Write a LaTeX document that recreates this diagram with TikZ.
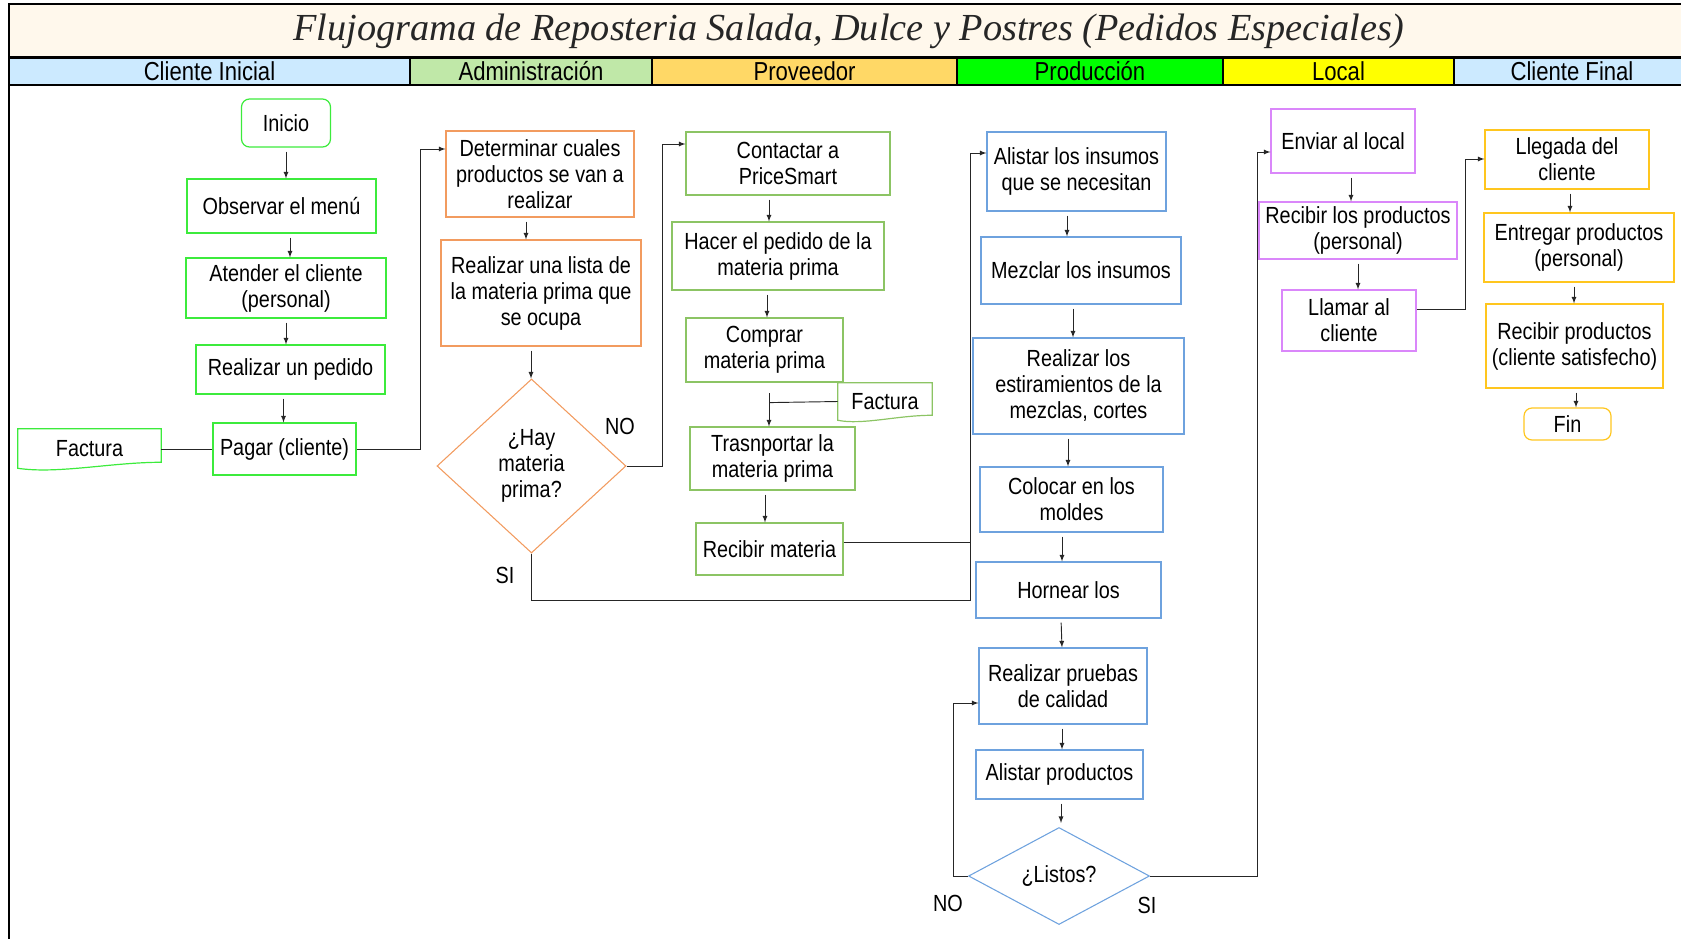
\documentclass[tikz,border=0pt]{standalone}
\usepackage{fontspec}
\setmainfont{Liberation Sans}[FakeStretch=0.85]
\newfontfamily\titulofont{Liberation Serif}
\usepackage{tikz}
\usetikzlibrary{arrows}
\usetikzlibrary{shapes.geometric,positioning,calc}

\definecolor{crema}{RGB}{255,248,236}
\definecolor{celeste}{RGB}{204,234,255}
\definecolor{verdeadm}{RGB}{192,232,168}
\definecolor{amarprov}{RGB}{255,216,102}
\definecolor{verdeprod}{RGB}{0,255,0}
\definecolor{amarlocal}{RGB}{255,255,0}
\definecolor{verdecli}{RGB}{60,235,60}
\definecolor{naranja}{RGB}{242,155,95}
\definecolor{verdeprv}{RGB}{140,196,100}
\definecolor{azulprod}{RGB}{110,162,222}
\definecolor{violeta}{RGB}{218,135,250}
\definecolor{dorado}{RGB}{255,198,30}

\newcommand\cuerpo{\fontsize{17.5}{19.5}\selectfont}
\newcommand\carrilletra{\fontsize{19.5}{21}\selectfont}

\tikzset{
  caja/.style={draw, line width=0.9pt, align=center, inner sep=1pt, font=\cuerpo},
  sz/.style 2 args={minimum width=#1*0.75pt, minimum height=#2*0.75pt},
  decision/.style={diamond, draw, line width=0.8pt, align=center, inner sep=0pt, aspect=1.5, font=\cuerpo},
  docu/.style={align=center, inner sep=1pt, font=\cuerpo},
  flecha/.style={-latex, line width=0.7pt, black!85, shorten <=3pt},
  linea/.style={line width=0.7pt, black!85},
  carril/.style={draw, line width=0.9pt, font=\carrilletra},
  etiq/.style={font=\cuerpo}
}

\begin{document}
\begin{tikzpicture}[x=0.75pt, y=-0.75pt]
  \useasboundingbox (0,0) rectangle (1681,939);

  % titulo y carriles
  \draw[line width=1pt, fill=crema] (9,4) rectangle (1690,57);
  \node[font=\titulofont\itshape\fontsize{28.7}{30}\selectfont, text=black!85] (titulo) at (849,31)
    {Flujograma de Reposteria Salada, Dulce y Postres (Pedidos Especiales)};
  \draw[carril, fill=celeste] (9,58) rectangle node {Cliente Inicial} (410,85);
  \draw[carril, fill=verdeadm] (410,58) rectangle node {Administración} (652,85);
  \draw[carril, fill=amarprov] (652,58) rectangle node {Proveedor} (957,85);
  \draw[carril, fill=verdeprod] (957,58) rectangle node {Producción} (1223,85);
  \draw[carril, fill=amarlocal] (1223,58) rectangle node {Local} (1454,85);
  \draw[carril, fill=celeste] (1454,58) rectangle node {Cliente Final} (1690,85);
  \draw[line width=1.5pt] (9,4) -- (9,939);

  % cliente inicial
  \node[caja, draw=verdecli, rounded corners=6pt, sz={89}{48}] (ini) at (286,123) {Inicio};
  \node[caja, draw=verdecli, sz={189}{54}] (obs) at (281.5,206) {Observar el menú};
  \node[caja, draw=verdecli, sz={200}{60}] (ate) at (286,288) {Atender el cliente\\(personal)};
  \node[caja, draw=verdecli, sz={189}{49}] (ped) at (290.5,369.5) {Realizar un pedido};
  \node[caja, draw=verdecli, sz={143}{52}] (pag) at (284.5,449) {Pagar (cliente)};
  \node[docu, sz={143}{39}] (fac1) at (89.5,448.5) {Factura};
  \draw[line width=0.9pt, verdecli] (fac1.north west) -- (fac1.north east) -- ($(fac1.south east)+(0,-6)$)
    .. controls ($(fac1.south east)+(-50,-6)$) and ($(fac1.south west)+(40,6)$) .. (fac1.south west) -- cycle;

  % administracion
  \node[caja, draw=naranja, sz={188}{86}] (det) at (540,174) {Determinar cuales\\productos se van a\\realizar};
  \node[caja, draw=naranja, sz={200}{106}] (lis) at (541,293) {Realizar una lista de\\la materia prima que\\se ocupa};
  \node[decision, draw=naranja, sz={189}{174}] (hay) at (531.5,466) {¿Hay\\materia\\prima?};
  \node[etiq] (no1) at (620,426) {NO};
  \node[etiq] (si1) at (505,575) {SI};

  % proveedor
  \node[caja, draw=verdeprv, sz={204}{63}] (con) at (788,163.5) {Contactar a\\PriceSmart};
  \node[caja, draw=verdeprv, sz={212}{68}] (hac) at (778,256) {Hacer el pedido de la\\materia prima};
  \node[caja, draw=verdeprv, sz={157}{64}] (com) at (764.5,350) {Comprar\\materia prima};
  \node[docu, sz={94}{37}] (fac2) at (885,401.5) {Factura};
  \draw[line width=0.9pt, verdeprv] (fac2.north west) -- (fac2.north east) -- ($(fac2.south east)+(0,-5)$)
    .. controls ($(fac2.south east)+(-35,-5)$) and ($(fac2.south west)+(25,5)$) .. (fac2.south west) -- cycle;
  \node[caja, draw=verdeprv, sz={165}{63}] (tra) at (772.5,458.5) {Trasnportar la\\materia prima};
  \node[caja, draw=verdeprv, sz={147}{52}] (rma) at (769.5,549) {Recibir materia};

  % produccion
  \node[caja, draw=azulprod, sz={179}{79}] (ali) at (1076.5,171.5) {Alistar los insumos\\que se necesitan};
  \node[caja, draw=azulprod, sz={200}{67}] (mez) at (1081,270.5) {Mezclar los insumos};
  \node[caja, draw=azulprod, sz={211}{96}] (est) at (1078.5,386) {Realizar los\\estiramientos de la\\mezclas, cortes};
  \node[caja, draw=azulprod, sz={183}{65}] (col) at (1071.5,499.5) {Colocar en los\\moldes};
  \node[caja, draw=azulprod, sz={185}{56}] (hor) at (1068.5,590) {Hornear los};
  \node[caja, draw=azulprod, sz={168}{76}] (pru) at (1063,686) {Realizar pruebas\\de calidad};
  \node[caja, draw=azulprod, sz={167}{49}] (alp) at (1059.5,774.5) {Alistar productos};
  \node[decision, draw=azulprod, sz={181}{97}] (lst) at (1059,876) {¿Listos?};
  \node[etiq] (no2) at (948,903) {NO};
  \node[etiq] (si2) at (1147,905) {SI};

  % local
  \node[caja, draw=violeta, sz={144}{64}] (env) at (1343,141) {Enviar al local};
  \node[caja, draw=violeta, sz={198}{57}] (rlp) at (1358,230.5) {Recibir los productos\\(personal)};
  \node[caja, draw=violeta, sz={134}{61}] (lla) at (1349,320.5) {Llamar al\\cliente};

  % cliente final
  \node[caja, draw=dorado, sz={164}{59}] (lle) at (1567,159.5) {Llegada del\\cliente};
  \node[caja, draw=dorado, sz={190}{69}] (ent) at (1579,247.5) {Entregar productos\\(personal)};
  \node[caja, draw=dorado, sz={177}{84}] (rpc) at (1574.5,346) {Recibir productos\\(cliente satisfecho)};
  \node[caja, draw=dorado, rounded corners=6pt, sz={87}{32}] (fin) at (1567.5,424) {Fin};

  % puntos de quiebre
  \coordinate (q1) at (420,149);
  \coordinate (q2) at (662,144);
  \coordinate (q3) at (970,600);
  \coordinate (q4) at (970,153);
  \coordinate (q5) at (953,703);
  \coordinate (q6) at (1257,152);
  \coordinate (q7) at (1465,159);
  \coordinate (q8) at (970,542);

  % conectores
  \draw[flecha] (ini.south) -- (ini.south |- obs.north);
  \draw[flecha] ($(obs.south)+(8.5,0)$) -- ($(ate.north)+(4,0)$);
  \draw[flecha] (ate.south) -- (ate.south |- ped.north);
  \draw[flecha] ($(ped.south)+(-7,0)$) -- ($(pag.north)+(-1,0)$);
  \draw[linea] (pag.west) -- (pag.west -| fac1.east);
  \draw[flecha, shorten <=0pt] (pag.east) -| (q1) -- (q1 -| det.west);
  \draw[flecha] ($(det.south)+(-14,0)$) -- ($(lis.north)+(-15,0)$);
  \draw[flecha] ($(lis.south)+(-10,0)$) -- ($(hay.north)+(-0.5,0)$);
  \draw[flecha, shorten <=0pt] (hay.east) -| (q2) -- (q2 -| con.west);
  \draw[flecha, shorten <=0pt] (hay.south) |- (q3) -- (q4) -- (q4 -| ali.west);
  \draw[linea] (rma.east |- q8) -- (q8);
  \draw[flecha] ($(con.south)+(-19,0)$) -- ($(hac.north)+(-9,0)$);
  \draw[flecha] ($(hac.south)+(-11,0)$) -- ($(com.north)+(2.5,0)$);
  \draw[flecha, shorten <=8pt] ($(com.south)+(4.5,0)$) -- ($(tra.north)+(-3.5,0)$);
  \draw[linea] (fac2.west) -- ($(com.south)+(4.5,20)$);
  \draw[flecha] ($(tra.south)+(-7.5,0)$) -- ($(rma.north)+(-4.5,0)$);
  \draw[flecha] ($(ali.south)+(-9.5,0)$) -- ($(mez.north)+(-14,0)$);
  \draw[flecha] ($(mez.south)+(-8,0)$) -- ($(est.north)+(-5.5,0)$);
  \draw[flecha] ($(est.south)+(-10.5,0)$) -- ($(col.north)+(-3.5,0)$);
  \draw[flecha] ($(col.south)+(-9.5,0)$) -- ($(hor.north)+(-6.5,0)$);
  \draw[flecha] ($(hor.south)+(-7.5,0)$) -- ($(pru.north)+(-1,0)$);
  \draw[flecha] ($(pru.south)+(-1,0)$) -- ($(alp.north)+(2.5,0)$);
  \draw[flecha] ($(alp.south)+(1.5,0)$) -- ($(lst.north)+(2,-4)$);
  \draw[flecha, shorten <=0pt] (lst.west) -| (q5) -- (q5 -| pru.west);
  \draw[flecha, shorten <=0pt] (lst.east) -| (q6) -- (q6 -| env.west);
  \draw[flecha] ($(env.south)+(8,0)$) -- ($(rlp.north)+(-7,0)$);
  \draw[flecha] (rlp.south) -- (rlp.south |- lla.north);
  \draw[flecha, shorten <=0pt] ($(lla.east)+(0,-11)$) -| (q7) -- (q7 -| lle.west);
  \draw[flecha] ($(lle.south)+(3,0)$) -- ($(ent.north)+(-9,0)$);
  \draw[flecha] ($(ent.south)+(-5,0)$) -- ($(rpc.north)+(-0.5,0)$);
  \draw[flecha] ($(rpc.south)+(1.5,0)$) -- ($(fin.north)+(8.5,0)$);
\end{tikzpicture}
\end{document}
